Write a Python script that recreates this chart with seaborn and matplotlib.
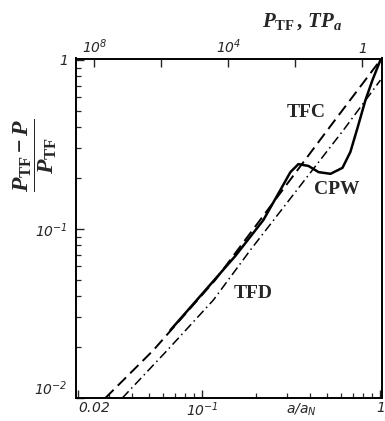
import numpy as np
import pandas as pd
import matplotlib
matplotlib.use("Agg")
import matplotlib.pyplot as plt
import matplotlib.ticker as mticker
import seaborn as sns

# ---- data ----
tfc_a = [0.0285, 0.0531, 0.118, 0.504, 1.0]
tfc_y = [0.010, 0.0192, 0.0499, 0.385, 1.0]

tfd_a = [0.0355, 0.0636, 0.1153, 0.186, 0.620, 1.0]
tfd_y = [0.010, 0.0192, 0.038, 0.0751, 0.385, 0.76]

cpw_a = [0.0661, 0.0975, 0.153, 0.220, 0.274, 0.312, 0.346, 0.394, 0.449,
         0.524, 0.612, 0.678, 0.743, 0.824, 0.902, 1.0]
cpw_y = [0.0252, 0.0402, 0.0692, 0.113, 0.170, 0.217, 0.242, 0.236, 0.217,
         0.212, 0.230, 0.286, 0.396, 0.580, 0.761, 1.0]

x_ticks = [0.02, 0.1, 1.0]
x_ticklabels = [r'$\mathsf{0.02}$', r'$\mathsf{10^{-1}}$', r'$\mathsf{1}$']
y_ticks = [0.01, 0.1, 1.0]
y_ticklabels = [r'$\mathsf{10^{-2}}$', r'$\mathsf{10^{-1}}$', r'$\mathsf{1}$']
top_ticks = [1e8, 1e6, 1e4, 1e2, 1.0]
top_ticklabels = [r'$\mathsf{10^{8}}$', '', r'$\mathsf{10^{4}}$', '', r'$\mathsf{1}$']

sns.set_style("ticks")
plt.rcParams['font.family'] = ['DejaVu Sans']
plt.rcParams['mathtext.fontset'] = 'custom'
plt.rcParams['mathtext.rm'] = 'Liberation Serif:bold'
plt.rcParams['mathtext.it'] = 'Liberation Serif:italic:bold'
plt.rcParams['mathtext.bf'] = 'Liberation Serif:bold'
plt.rcParams['mathtext.sf'] = 'DejaVu Sans:italic'

fig = plt.figure(figsize=(3.85, 4.21), dpi=100)
W, H = 385, 421
left, right, top, bottom = 76, 382, 58.5, 398
ax = fig.add_axes([left / W, 1 - bottom / H, (right - left) / W, (bottom - top) / H])

df = pd.concat([
    pd.DataFrame({'a': tfc_a, 'y': tfc_y, 'curve': 'TFC'}),
    pd.DataFrame({'a': tfd_a, 'y': tfd_y, 'curve': 'TFD'}),
    pd.DataFrame({'a': cpw_a, 'y': cpw_y, 'curve': 'CPW'}),
])

sns.lineplot(data=df[df.curve == 'TFC'], x='a', y='y', ax=ax, color='black',
             lw=1.4, sort=False, estimator=None)
sns.lineplot(data=df[df.curve == 'TFD'], x='a', y='y', ax=ax, color='black',
             lw=1.1, sort=False, estimator=None)
sns.lineplot(data=df[df.curve == 'CPW'], x='a', y='y', ax=ax, color='black',
             lw=1.8, sort=False, estimator=None)
lines = ax.get_lines()
lines[0].set_dashes([6, 3])
lines[1].set_dashes([6, 2.5, 1, 2.5])

ax.set_xscale('log')
ax.set_yscale('log')
ax.set_xlim(0.0195, 1.02)
ax.set_ylim(0.01, 1.02)

ax.xaxis.set_major_locator(mticker.FixedLocator(x_ticks))
ax.xaxis.set_major_formatter(mticker.FixedFormatter(x_ticklabels))
ax.xaxis.set_minor_locator(mticker.LogLocator(base=10, subs=np.arange(2, 10)))
ax.xaxis.set_minor_formatter(mticker.NullFormatter())
ax.yaxis.set_major_locator(mticker.FixedLocator(y_ticks))
ax.yaxis.set_major_formatter(mticker.FixedFormatter(y_ticklabels))
ax.yaxis.set_minor_locator(mticker.LogLocator(base=10, subs=np.arange(2, 10)))
ax.yaxis.set_minor_formatter(mticker.NullFormatter())

ax.tick_params(which='major', direction='in', length=6, width=1.0, labelsize=10)
ax.tick_params(axis='x', which='major', pad=2)
ax.tick_params(axis='y', which='major', pad=6)
ax.tick_params(which='minor', direction='in', length=3.5, width=0.9)
ax.tick_params(axis='both', which='both', top=False, right=False)
for s in ax.spines.values():
    s.set_linewidth(1.4)
    s.set_color('black')

ax.set_xlabel('')
ax.set_ylabel('')
fig.text(35 / W, 1 - 155 / H, r'$\dfrac{P_{\mathrm{TF}}-P}{P_{\mathrm{TF}}}$',
         fontsize=17, rotation=90, ha='center', va='center')

# top axis: P_TF, TP_a (log, decreasing to the right)
def to_top(a):
    return 10 ** (-(18 + 178 * np.log10(a)) / 33.5)

axt = ax.twiny()
axt.set_xscale('log')
axt.set_xlim(to_top(0.0195), to_top(1.02))
axt.xaxis.set_major_locator(mticker.FixedLocator(top_ticks))
axt.xaxis.set_major_formatter(mticker.FixedFormatter(top_ticklabels))
axt.xaxis.set_minor_locator(mticker.NullLocator())
axt.tick_params(which='major', direction='in', length=6, width=1.0, labelsize=10, pad=2)
for s in axt.spines.values():
    s.set_visible(False)
axt.grid(False)

fig.canvas.draw()
ax.get_yticklabels()[0].set_va('bottom')
ax.get_xticklabels()[0].set_ha('left')

fig.text(262 / W, 1 - 22 / H, r'$P_{\mathrm{TF}}\,,\,TP_a$', fontsize=15, va='center', ha='left')

ax.text(0.36, -0.036, r'$\mathsf{a/a_N}$', transform=ax.get_xaxis_transform(),
        fontsize=10, ha='center', va='center')

lab = dict(fontfamily='Liberation Serif', fontweight='bold', fontsize=14,
           ha='center', va='center')
ax.text(0.384, 0.49, 'TFC', **lab)
ax.text(0.566, 0.172, 'CPW', **lab)
ax.text(0.194, 0.0418, 'TFD', **lab)

fig.savefig('out.png', dpi=100)
